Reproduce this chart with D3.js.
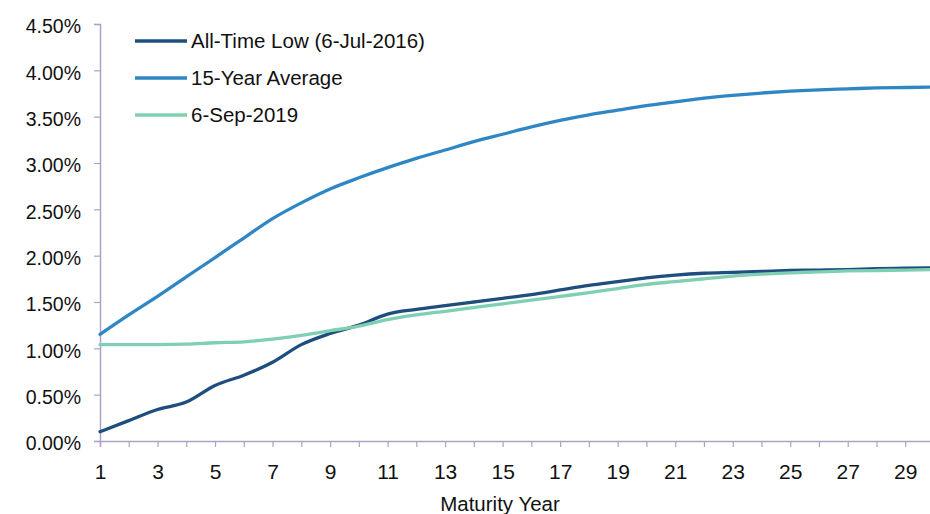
<!DOCTYPE html>
<html>
<head>
<meta charset="utf-8">
<script src="https://cdn.jsdelivr.net/npm/d3@7"></script>
<style>
  html, body { margin: 0; padding: 0; background: #ffffff; }
  svg { display: block; font-family: "Liberation Sans", Arial, sans-serif; }
</style>
</head>
<body>
<svg id="chart" width="930" height="514"></svg>
<script>
// Maturity years 1..30
const years = d3.range(1, 31);

// Yield curves (%)
const allTimeLow = [0.10, 0.22, 0.34, 0.42, 0.60, 0.71, 0.85, 1.04, 1.16, 1.25,
                    1.37, 1.42, 1.46, 1.50, 1.54, 1.58, 1.63, 1.68, 1.72, 1.76,
                    1.79, 1.81, 1.82, 1.83, 1.84, 1.845, 1.85, 1.86, 1.865, 1.87];
const fifteenYearAvg = [1.15, 1.36, 1.56, 1.77, 1.98, 2.19, 2.40, 2.57, 2.72, 2.84,
                        2.95, 3.05, 3.14, 3.23, 3.31, 3.39, 3.46, 3.52, 3.57, 3.62,
                        3.66, 3.70, 3.73, 3.755, 3.775, 3.79, 3.80, 3.81, 3.815, 3.82];
const sep2019 = [1.04, 1.04, 1.04, 1.045, 1.06, 1.07, 1.10, 1.14, 1.19, 1.24,
                 1.31, 1.36, 1.40, 1.44, 1.48, 1.52, 1.56, 1.60, 1.645, 1.69,
                 1.72, 1.75, 1.78, 1.80, 1.815, 1.825, 1.835, 1.84, 1.845, 1.85];

const seriesNames = ["All-Time Low (6-Jul-2016)", "15-Year Average", "6-Sep-2019"];
const seriesColors = ["#1d4e7d", "#2f86c4", "#7fcfb2"];
const yTicks = [0, 0.5, 1.0, 1.5, 2.0, 2.5, 3.0, 3.5, 4.0, 4.5];

const series = [allTimeLow, fifteenYearAvg, sep2019].map((vals, i) => ({
  name: seriesNames[i],
  color: seriesColors[i],
  points: years.map((yr, j) => ({ yr, v: vals[j] }))
}));

const svg = d3.select("#chart");
const axisColor = "#aaa3c6";

const x = d3.scaleLinear().domain([1, 30]).range([100, 934]);
const y = d3.scaleLinear().domain([0, 4.5]).range([441, 24]);

// Y axis
const yAxis = d3.axisLeft(y)
  .tickValues(yTicks)
  .tickSize(6)
  .tickPadding(13)
  .tickFormat(d => d3.format(".2f")(d) + "%");

const gy = svg.append("g").attr("transform", "translate(100,0)").call(yAxis);
gy.select(".domain").attr("stroke", axisColor).attr("stroke-width", 1.5);
gy.selectAll(".tick line").attr("stroke", axisColor).attr("stroke-width", 1.2);
gy.selectAll(".tick text")
  .attr("fill", "#111")
  .attr("dy", "0.45em")
  .style("font-size", "19.5px");

// X axis
const xAxis = d3.axisBottom(x)
  .tickValues(d3.range(1, 31))
  .tickSize(6)
  .tickPadding(17)
  .tickFormat(d => (d % 2 === 1 ? d : ""));

const gx = svg.append("g").attr("transform", "translate(0,441)").call(xAxis);
gx.select(".domain").attr("stroke", axisColor).attr("stroke-width", 1.5);
gx.selectAll(".tick line").attr("stroke", axisColor).attr("stroke-width", 1.2);
gx.selectAll(".tick text")
  .attr("fill", "#111")
  .style("font-size", "21px");

// Axis title
svg.append("text")
  .attr("x", 500)
  .attr("y", 511)
  .attr("text-anchor", "middle")
  .attr("fill", "#111")
  .style("font-size", "20.5px")
  .text("Maturity Year");

// Lines
const line = d3.line()
  .x(d => x(d.yr))
  .y(d => y(d.v))
  .curve(d3.curveMonotoneX);

svg.append("g")
  .selectAll("path")
  .data(series)
  .join("path")
  .attr("d", d => line(d.points))
  .attr("fill", "none")
  .attr("stroke", d => d.color)
  .attr("stroke-width", 3.3)
  .attr("stroke-linejoin", "round")
  .attr("stroke-linecap", "round");

// Legend
const legendY = [41, 78, 115];
const legend = svg.append("g")
  .selectAll("g")
  .data(series)
  .join("g")
  .attr("transform", (d, i) => `translate(135,${legendY[i]})`);

legend.append("line")
  .attr("x1", 0).attr("x2", 52)
  .attr("y1", 0).attr("y2", 0)
  .attr("stroke", d => d.color)
  .attr("stroke-width", 3.3);

legend.append("text")
  .attr("x", 56)
  .attr("y", 0)
  .attr("dy", "0.36em")
  .attr("fill", "#111")
  .style("font-size", "20.5px")
  .text(d => d.name);
</script>
</body>
</html>
